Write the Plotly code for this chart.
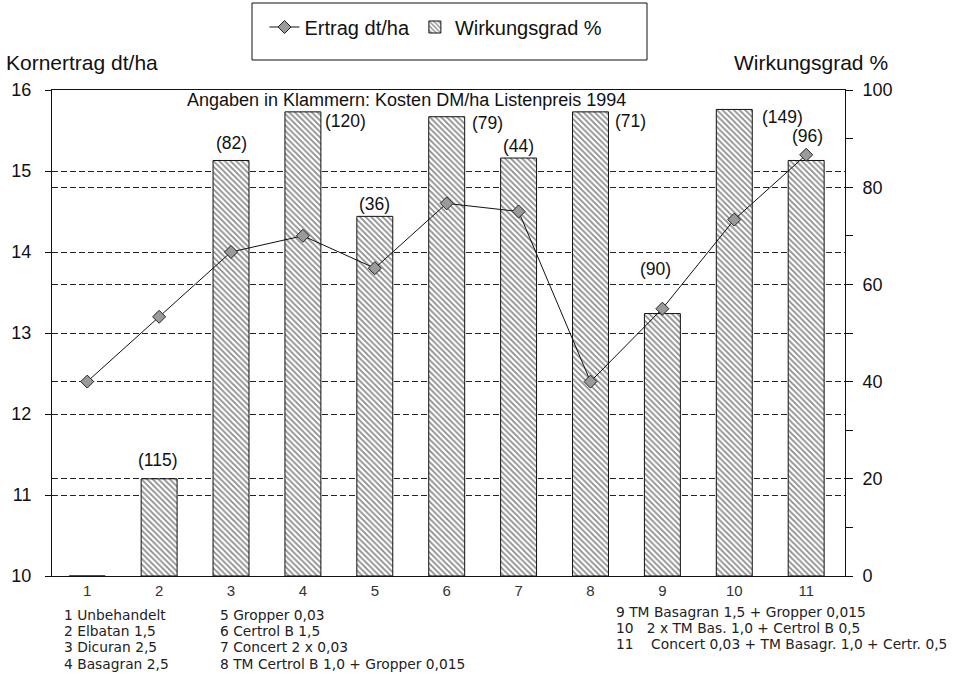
import plotly.graph_objects as go

# ---------------- data ----------------
categories = list(range(1, 12))
ertrag = [12.4, 13.2, 14.0, 14.2, 13.8, 14.6, 14.5, 12.4, 13.3, 14.4, 15.2]          # dt/ha (left axis)
wirkungsgrad = [0, 20, 85.5, 95.5, 74, 94.5, 86, 95.5, 54, 96, 85.5]               # % (right axis)
kosten = [None, "(115)", "(82)", "(120)", "(36)", "(79)", "(44)", "(71)", "(90)", "(149)", "(96)"]
left_ticks = [10, 11, 12, 13, 14, 15, 16]
right_ticks = [0, 20, 40, 60, 80, 100]
varianten_col1 = ["1 Unbehandelt", "2 Elbatan 1,5", "3 Dicuran 2,5", "4 Basagran 2,5"]
varianten_col2 = ["5 Gropper 0,03", "6 Certrol B 1,5", "7 Concert 2 x 0,03",
                  "8 TM Certrol B 1,0 + Gropper 0,015"]
varianten_col3 = ["9 TM Basagran 1,5 + Gropper 0,015",
                  "10\u00a0\u00a0 2 x TM Bas. 1,0 + Certrol B 0,5",
                  "11\u00a0\u00a0\u00a0 Concert 0,03 + TM Basagr. 1,0 + Certr. 0,5"]

# ---------------- layout geometry (page pixels) ----------------
W, H = 957, 682
L, R, T, B = 52, 845, 90, 576  # plot area in page pixels
PW, PH = R - L, B - T
BAR_W = 0.5
FONT = "Liberation Sans, Arial, sans-serif"
FONT2 = "DejaVu Sans, sans-serif"


def px_x(px):
    return (px - L) / PW


def px_y(py):
    return (B - py) / PH


fig = go.Figure()

fig.add_trace(go.Bar(
    x=categories, y=wirkungsgrad, yaxis="y", width=BAR_W,
    name="Wirkungsgrad %", legendrank=2,
    marker=dict(color="white", line=dict(color="#111", width=1),
                pattern=dict(shape="\\", size=4, solidity=0.45,
                             fgcolor="#1a1a1a", bgcolor="white")),
))

fig.add_trace(go.Scatter(
    x=categories, y=ertrag, yaxis="y2", mode="lines+markers",
    name="Ertrag dt/ha", legendrank=1,
    line=dict(color="#111", width=1),
    marker=dict(symbol="diamond", size=10, color="#9a9a9a",
                line=dict(color="#222", width=1)),
))

# label placement (style, not data): kind, vertical shift px, horizontal shift px
placement = {
    1: ("above", 19, -1), 2: ("above", 17, 0), 3: ("right", -9, 2),
    4: ("above", 12, 0), 5: ("right", -6, 5), 6: ("above", 12, 0),
    7: ("right", -9, 5), 8: ("above", 45, -7), 9: ("right", -8, 8),
    10: ("above", 24, 1),
}

annotations = []
for i, lab in enumerate(kosten):
    if not lab:
        continue
    kind, dy, dx = placement[i]
    if kind == "above":
        annotations.append(dict(x=categories[i], y=wirkungsgrad[i], xref="x", yref="y",
                                text=lab, showarrow=False, xanchor="center", yanchor="middle",
                                yshift=dy, xshift=dx, font=dict(family=FONT, size=17.5, color="#111")))
    else:
        annotations.append(dict(x=categories[i] + BAR_W / 2, y=wirkungsgrad[i], xref="x", yref="y",
                                text=lab, showarrow=False, xanchor="left", yanchor="middle",
                                yshift=dy, xshift=dx, font=dict(family=FONT, size=17.5, color="#111")))

annotations.append(dict(x=px_x(406), y=px_y(100), xref="paper", yref="paper",
                        text="Angaben in Klammern: Kosten DM/ha Listenpreis 1994",
                        showarrow=False, xanchor="center", yanchor="middle",
                        font=dict(family=FONT, size=18, color="#111")))
annotations.append(dict(x=px_x(4), y=px_y(63), xref="paper", yref="paper",
                        text="Kornertrag dt/ha", showarrow=False, xanchor="left", yanchor="middle",
                        font=dict(family=FONT, size=21, color="#111")))
annotations.append(dict(x=px_x(890), y=px_y(63), xref="paper", yref="paper",
                        text="Wirkungsgrad %", showarrow=False, xanchor="right", yanchor="middle",
                        font=dict(family=FONT, size=21, color="#111")))

ROW = 16.2
col_specs = [(varianten_col1, 62, 615), (varianten_col2, 218, 615), (varianten_col3, 614, 612)]
for lines, x0, y0 in col_specs:
    for k, txt in enumerate(lines):
        annotations.append(dict(x=px_x(x0), y=px_y(y0 + ROW * k), xref="paper", yref="paper",
                                text=txt, showarrow=False, xanchor="left", yanchor="middle",
                                font=dict(family=FONT2, size=13.8, color="#222")))

fig.update_layout(
    width=W, height=H, autosize=False,
    margin=dict(l=L, r=W - R, t=T, b=H - B, pad=0, autoexpand=False),
    paper_bgcolor="white", plot_bgcolor="white",
    font=dict(family=FONT, color="#111"),
    xaxis=dict(range=[0.51, 11.54], tickvals=categories, ticks="", showline=True,
               linecolor="#111", linewidth=1, mirror=True, showgrid=False, zeroline=False,
               tickfont=dict(family=FONT, size=15, color="#333"), ticklabelstandoff=1),
    yaxis=dict(side="right", range=[0, 100], tickvals=right_ticks, ticks="outside",
               ticklen=7, tickcolor="#111", showline=True, linecolor="#111", linewidth=1,
               showgrid=True, gridcolor="#222", griddash="6px,3px", gridwidth=1,
               zeroline=False, tickfont=dict(family=FONT, size=18, color="#111"),
               ticklabelstandoff=6,
               minor=dict(dtick=10, ticks="outside", ticklen=7, tickcolor="#111", showgrid=False)),
    yaxis2=dict(side="left", overlaying="y", range=[10, 16], tickvals=left_ticks,
                ticks="outside", ticklen=6, tickcolor="#111", showline=True,
                linecolor="#111", linewidth=1, showgrid=True, gridcolor="#222",
                griddash="6px,3px", gridwidth=1, zeroline=False,
                tickfont=dict(family=FONT, size=18, color="#111"), ticklabelstandoff=10),
    legend=dict(orientation="h", x=px_x(436), xanchor="center", y=px_y(27), yanchor="middle",
                font=dict(family=FONT, size=20, color="#111"), bgcolor="rgba(0,0,0,0)",
                itemwidth=30, borderwidth=0),
    shapes=[dict(type="rect", xref="paper", yref="paper",
                 x0=px_x(252), x1=px_x(647), y0=px_y(60), y1=px_y(3),
                 line=dict(color="#111", width=1), fillcolor="rgba(0,0,0,0)")],
    annotations=annotations,
)

fig.write_html("out.html", config={"displayModeBar": False},
               post_script="document.body.style.margin='0';document.body.style.overflow='hidden';")
